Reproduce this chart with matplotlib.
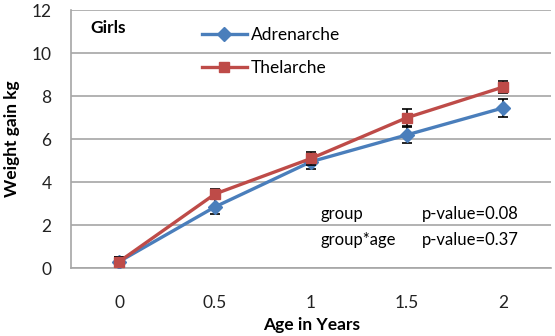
import matplotlib
matplotlib.use("Agg")
import matplotlib.pyplot as plt
import numpy as np

ages = ["0", "0.5", "1", "1.5", "2"]
adrenarche = [0.3, 2.85, 4.95, 6.2, 7.45]
adrenarche_err = [0.2, 0.35, 0.35, 0.37, 0.4]
thelarche = [0.3, 3.45, 5.1, 7.0, 8.42]
thelarche_err = [0.2, 0.25, 0.3, 0.4, 0.28]
y_ticks = [0, 2, 4, 6, 8, 10, 12]

plt.rcParams["font.family"] = ["Lato", "DejaVu Sans"]

fig = plt.figure(figsize=(5.55, 3.36), dpi=100)
ax = fig.add_axes([0.128, 0.202, 0.865, 0.768])

x = np.arange(len(ages))
ax.errorbar(x, adrenarche, yerr=adrenarche_err, color="#4A7EBB", lw=2.4,
            marker="D", ms=7.5, ecolor="black", elinewidth=1.2, capsize=3.5,
            capthick=1.2, label="Adrenarche", zorder=3)
ax.errorbar(x, thelarche, yerr=thelarche_err, color="#BE4B48", lw=2.4,
            marker="s", ms=7, ecolor="black", elinewidth=1.2, capsize=3.5,
            capthick=1.2, label="Thelarche", zorder=4)

ax.set_xlim(-0.5, len(ages) - 0.5)
ax.set_ylim(0, 12)
ax.set_xticks(x)
ax.set_xticklabels(ages)
ax.set_yticks(y_ticks)
ax.tick_params(axis="both", labelsize=12.5, length=0, colors="#222222")
ax.tick_params(axis="x", pad=19)
ax.tick_params(axis="y", pad=14)
ax.yaxis.grid(True, color="#A6A6A6", lw=1.2)
ax.set_axisbelow(True)
for side in ["top", "right"]:
    ax.spines[side].set_visible(False)
ax.spines["left"].set_color("#A6A6A6")
ax.spines["bottom"].set_color("#A6A6A6")
ax.spines["left"].set_linewidth(1.2)
ax.spines["bottom"].set_linewidth(1.2)

# axis titles placed on the figure so nothing gets cut off
fig.text(312 / 555, 1 - 325 / 336, "Age in Years", fontsize=12.5,
         fontweight="bold", ha="center", va="center")
ax.set_ylabel("Weight gain kg", fontsize=12.5, fontweight="bold", labelpad=8)

ax.text(0.04, 0.93, "Girls", transform=ax.transAxes, fontsize=12.5,
        fontweight="bold", va="center")

handles, labels = ax.get_legend_handles_labels()
handles = [h[0] for h in handles]
ax.legend(handles, labels, loc="upper left", bbox_to_anchor=(0.24, 0.995),
          frameon=False, fontsize=12.5, handlelength=2.6, handletextpad=0.2,
          labelspacing=1.0)

ax.text(0.52, 0.209, "group", transform=ax.transAxes, fontsize=12, va="center")
ax.text(0.73, 0.209, "p-value=0.08", transform=ax.transAxes, fontsize=12,
        va="center")
ax.text(0.52, 0.108, "group*age", transform=ax.transAxes, fontsize=12,
        va="center")
ax.text(0.73, 0.108, "p-value=0.37", transform=ax.transAxes, fontsize=12,
        va="center")

fig.savefig("out.png", dpi=100)
